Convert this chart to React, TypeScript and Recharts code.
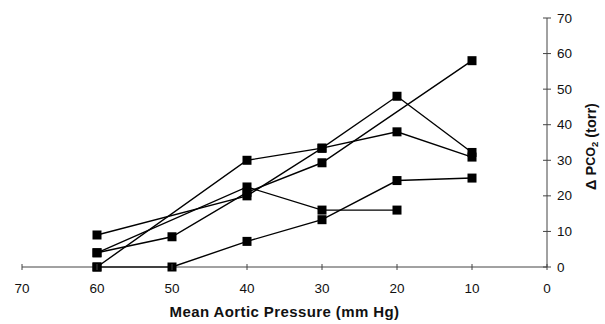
import { Label, Line, LineChart, XAxis, YAxis } from 'recharts'

// mean aortic pressure (mm Hg), read right to left on the chart
const pressures = [60, 50, 40, 30, 20, 10]
const seriesA = [4, null, 22.5, 16, 16, null]
const seriesB = [0, 0, 7.2, 13.3, 24.3, 25]
const seriesC = [4, 8.5, 21, 29.3, null, 58]
const seriesD = [0, null, 30, 33.4, 48, 32.2]
const seriesE = [9, null, 20, 33.4, 38, 30.9]

const xTicks = [70, 60, 50, 40, 30, 20, 10, 0]
const yTicks = [0, 10, 20, 30, 40, 50, 60, 70]

const seriesKeys = ['a', 'b', 'c', 'd', 'e']

const chartData = pressures.map((p, i) => ({
  p,
  a: seriesA[i],
  b: seriesB[i],
  c: seriesC[i],
  d: seriesD[i],
  e: seriesE[i]
}))

const FONT = 'Liberation Sans, Arial, sans-serif'
const INK = '#111'

function SquareDot(props: any) {
  const { cx, cy, index, dataKey } = props
  if (cx == null || cy == null || props.value == null) return <g key={`${dataKey}-${index}`} />
  return <rect key={`${dataKey}-${index}`} x={cx - 4.5} y={cy - 4.5} width={9} height={9} fill="#000" />
}

function XTick({ x, y, payload }: any) {
  return (
    <g>
      <line x1={x} x2={x} y1={y - 3} y2={y + 3} stroke="#444" strokeWidth={1} />
      <text x={x} y={y + 26} textAnchor="middle" fontSize={13.5} fontFamily={FONT} fill={INK}>
        {payload.value}
      </text>
    </g>
  )
}

function YTick({ x, y, payload }: any) {
  return (
    <g>
      <line x1={x - 4} x2={x + 4} y1={y} y2={y} stroke="#444" strokeWidth={1} />
      <text x={x + 10} y={y + 4.5} textAnchor="start" fontSize={13.5} fontFamily={FONT} fill={INK}>
        {payload.value}
      </text>
    </g>
  )
}

function YTitle({ viewBox }: any) {
  const cx = viewBox.x + viewBox.width - 14
  const cy = viewBox.y + viewBox.height / 2 + 4
  return (
    <text
      x={cx}
      y={cy}
      transform={`rotate(-90 ${cx} ${cy})`}
      textAnchor="middle"
      dominantBaseline="central"
      fontSize={14.5}
      fontWeight="bold"
      fontFamily={FONT}
      fill={INK}
    >
      {'Δ P'}
      <tspan fontSize={12.5}>CO</tspan>
      <tspan fontSize={9.5} dy={3}>2</tspan>
      <tspan dy={-3}>{' (torr)'}</tspan>
    </text>
  )
}

function XTitle({ viewBox }: any) {
  const cx = viewBox.x + viewBox.width / 2
  return (
    <text
      x={cx}
      y={317}
      textAnchor="middle"
      fontSize={15}
      fontWeight="bold"
      fontFamily={FONT}
      letterSpacing={0.4}
      fill={INK}
    >
      Mean Aortic Pressure (mm Hg)
    </text>
  )
}

export default function App() {
  return (
    <div style={{ position: 'absolute', left: 0, top: 0, width: 605, height: 324, background: '#fff' }}>
      <LineChart width={605} height={324} data={chartData} margin={{ top: 18, right: 0, left: 22, bottom: 0 }}>
        <XAxis
          dataKey="p"
          type="number"
          domain={[0, 70]}
          ticks={xTicks}
          reversed
          interval={0}
          height={57}
          tickSize={0}
          tickMargin={0}
          tickLine={false}
          tick={<XTick />}
          axisLine={{ stroke: '#444', strokeWidth: 1 }}
        >
          <Label content={<XTitle />} />
        </XAxis>
        <YAxis
          orientation="right"
          type="number"
          domain={[0, 70]}
          ticks={yTicks}
          interval={0}
          width={58}
          tickSize={0}
          tickMargin={0}
          tickLine={false}
          tick={<YTick />}
          axisLine={{ stroke: '#444', strokeWidth: 1 }}
        >
          <Label content={<YTitle />} />
        </YAxis>
        {seriesKeys.map((key) => (
          <Line
            key={key}
            dataKey={key}
            type="linear"
            stroke="#000"
            strokeWidth={1.4}
            connectNulls
            dot={SquareDot}
            activeDot={false}
            isAnimationActive={false}
          />
        ))}
      </LineChart>
    </div>
  )
}
